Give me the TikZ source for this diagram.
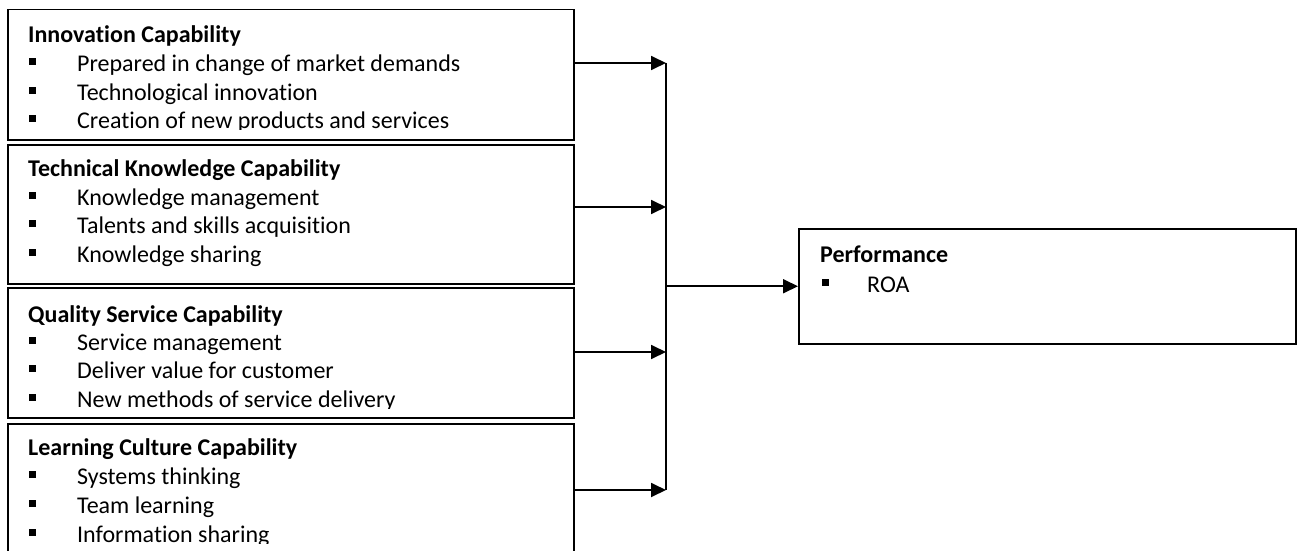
\documentclass[tikz,border=0pt]{standalone}
\usepackage{fontspec}
\setmainfont{Carlito}[Ligatures=NoCommon]
\usetikzlibrary{arrows.meta}
\newcommand\sqb{\rule[0.25em]{0.29em}{0.29em}}
\begin{document}
\begin{tikzpicture}[x=1pt,y=-1pt,
  box/.style={draw,line width=1.5pt,rectangle,inner sep=0pt,anchor=north west},
  txt/.style={anchor=base west,inner sep=0pt,font=\fontsize{24}{29}\selectfont},
  ttl/.style={anchor=base west,inner sep=0pt,font=\fontsize{24}{29}\selectfont\bfseries},
  arr/.style={line width=1.8pt,-{Triangle[length=15pt,width=14pt]}},
  link/.style={line width=1.8pt}]
\useasboundingbox (0,0) rectangle (1300,551);
% boxes
\node[box,minimum width=566pt,minimum height=130pt] (b1) at (7,9) {};
\node[box,minimum width=566pt,minimum height=139pt] (b2) at (7,144) {};
\node[box,minimum width=566pt,minimum height=130pt] (b3) at (7,287) {};
\node[box,minimum width=566pt,minimum height=150pt] (b4) at (7,423) {};
\node[box,minimum width=497pt,minimum height=115pt] (pf) at (798,228) {};
% box 1 text
\begin{scope}
\clip (7,9) rectangle (573,129);
\node[ttl] (t1) at (28,42) {Innovation Capability};
\node[txt] (b1p1) at (29,71) {\sqb};
\node[txt] (b1x1) at (77,71) {Prepared in change of market demands};
\node[txt] (b1p2) at (29,100) {\sqb};
\node[txt] (b1x2) at (77,100) {Technological innovation};
\node[txt] (b1p3) at (29,128) {\sqb};
\node[txt] (b1x3) at (77,128) {Creation of new products and services};
\end{scope}
% box 2 text
\node[ttl] (t2) at (28,176) {Technical Knowledge Capability};
\node[txt] (b2p1) at (29,205) {\sqb};
\node[txt] (b2x1) at (77,205) {Knowledge management};
\node[txt] (b2p2) at (29,233) {\sqb};
\node[txt] (b2x2) at (77,233) {Talents and skills acquisition};
\node[txt] (b2p3) at (29,262) {\sqb};
\node[txt] (b2x3) at (77,262) {Knowledge sharing};
% box 3 text
\begin{scope}
\clip (7,287) rectangle (573,408);
\node[ttl] (t3) at (28,322) {Quality Service Capability};
\node[txt] (b3p1) at (29,350) {\sqb};
\node[txt] (b3x1) at (77,350) {Service management};
\node[txt] (b3p2) at (29,378) {\sqb};
\node[txt] (b3x2) at (77,378) {Deliver value for customer};
\node[txt] (b3p3) at (29,407) {\sqb};
\node[txt] (b3x3) at (77,407) {New methods of service delivery};
\end{scope}
% box 4 text
\begin{scope}
\clip (7,423) rectangle (573,543);
\node[ttl] (t4) at (28,455) {Learning Culture Capability};
\node[txt] (b4p1) at (29,484) {\sqb};
\node[txt] (b4x1) at (77,484) {Systems thinking};
\node[txt] (b4p2) at (29,513) {\sqb};
\node[txt] (b4x2) at (77,513) {Team learning};
\node[txt] (b4p3) at (29,542) {\sqb};
\node[txt] (b4x3) at (77,542) {Information sharing};
\end{scope}
% performance text
\node[ttl] (tp) at (820,262) {Performance};
\node[txt] (pfp) at (822,292) {\sqb};
\node[txt] (pfx) at (867,292) {ROA};
% connectors
\coordinate (j1) at (666,63);
\coordinate (j2) at (666,207);
\coordinate (j3) at (666,352);
\coordinate (j4) at (666,490);
\draw[arr] (b1.east |- j1) -- (j1);
\draw[arr] (b2.east |- j2) -- (j2);
\draw[arr] (b3.east |- j3) -- (j3);
\draw[arr] (b4.east |- j4) -- (j4);
\draw[link] (j1) -- (j4);
\draw[arr] (j1 |- pf.west) -- (pf.west);
\end{tikzpicture}
\end{document}
